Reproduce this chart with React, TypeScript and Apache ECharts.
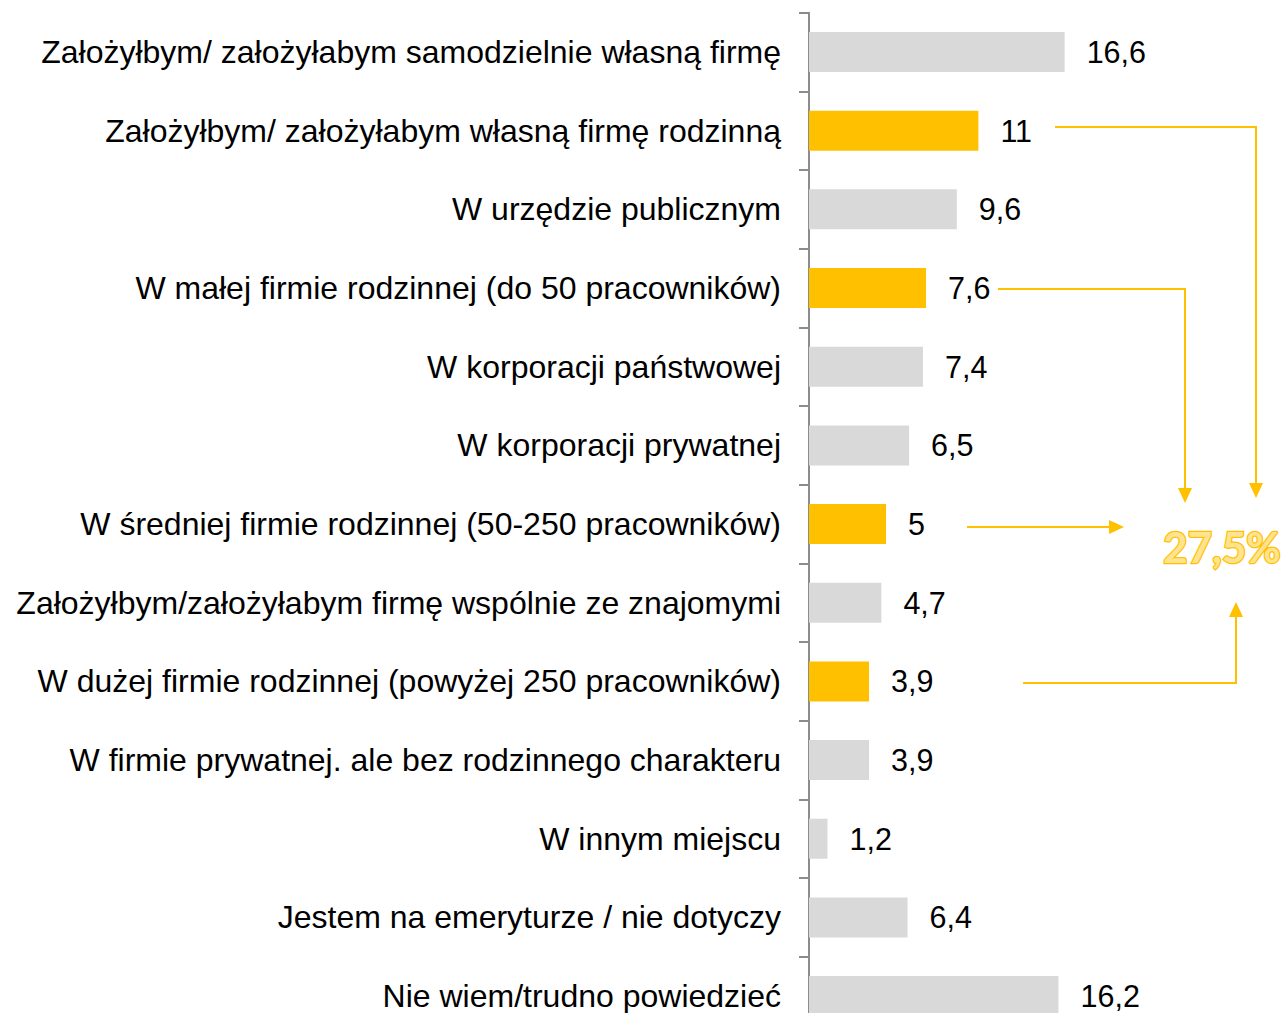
import React, { useEffect, useRef } from "react";
import * as echarts from "echarts";

const categories = [
  "Założyłbym/ założyłabym samodzielnie własną firmę",
  "Założyłbym/ założyłabym własną firmę rodzinną",
  "W urzędzie publicznym",
  "W małej firmie rodzinnej (do 50 pracowników)",
  "W korporacji państwowej",
  "W korporacji prywatnej",
  "W średniej firmie rodzinnej (50-250 pracowników)",
  "Założyłbym/założyłabym firmę wspólnie ze znajomymi",
  "W dużej firmie rodzinnej (powyżej 250 pracowników)",
  "W firmie prywatnej. ale bez rodzinnego charakteru",
  "W innym miejscu",
  "Jestem na emeryturze / nie dotyczy",
  "Nie wiem/trudno powiedzieć",
];
const values = [16.6, 11, 9.6, 7.6, 7.4, 6.5, 5, 4.7, 3.9, 3.9, 1.2, 6.4, 16.2];
const familyFirm = [false, true, false, true, false, false, true, false, true, false, false, false, false];
const totalLabel = "27,5%";

const GOLD = "#FFC000";
const GREY = "#D9D9D9";

function arrow(points: number[][], dir: "down" | "up" | "right") {
  const end = points[points.length - 1];
  const [x, y] = end;
  const h = 15, w = 7;
  let tri: number[][];
  let linePts = points.slice();
  if (dir === "down") {
    tri = [[x - w, y - h], [x + w, y - h], [x, y]];
    linePts[linePts.length - 1] = [x, y - h + 1];
  } else if (dir === "up") {
    tri = [[x - w, y + h], [x + w, y + h], [x, y]];
    linePts[linePts.length - 1] = [x, y + h - 1];
  } else {
    tri = [[x - h, y - w], [x - h, y + w], [x, y]];
    linePts[linePts.length - 1] = [x - h + 1, y];
  }
  return [
    { type: "polyline", shape: { points: linePts }, style: { stroke: GOLD, lineWidth: 2, fill: "none" }, z: 10 },
    { type: "polygon", shape: { points: tri }, style: { fill: GOLD }, z: 10 },
  ];
}

export default function App() {
  const ref = useRef<HTMLDivElement>(null);
  useEffect(() => {
    if (!ref.current) return;
    const chart = echarts.init(ref.current, null, { renderer: "svg" });
    const font = "Liberation Sans";
    chart.setOption({
      animation: false,
      backgroundColor: "#ffffff",
      grid: { left: 809, top: 12.7, width: 462, height: 1022.7, containLabel: false },
      xAxis: {
        type: "value",
        min: 0,
        max: 30,
        show: false,
      },
      yAxis: {
        type: "category",
        inverse: true,
        data: categories,
        axisLine: { show: true, lineStyle: { color: "#8C8C8C", width: 2 } },
        axisTick: { show: true, length: 10, lineStyle: { color: "#8C8C8C", width: 2 } },
        axisLabel: { margin: 28, color: "#000000", fontSize: 32, fontFamily: font },
        splitLine: { show: false },
      },
      series: [
        {
          type: "bar",
          barWidth: 40,
          data: values.map((v, i) => ({
            value: v,
            itemStyle: { color: familyFirm[i] ? GOLD : GREY },
          })),
          label: {
            show: true,
            position: "right",
            distance: 22,
            color: "#000000",
            fontSize: 30.5,
            fontFamily: font,
            formatter: (p: any) => String(p.value).replace(".", ","),
          },
        },
      ],
      graphic: [
        ...arrow([[1055, 127], [1256, 127], [1256, 498]], "down"),
        ...arrow([[998, 289], [1185, 289], [1185, 503]], "down"),
        ...arrow([[967, 527], [1124, 527]], "right"),
        ...arrow([[1023, 683], [1236, 683], [1236, 602]], "up"),
        {
          type: "text",
          x: 1222,
          y: 547,
          z: 11,
          style: {
            text: totalLabel,
            fontFamily: "Lato",
            fontWeight: "bold",
            fontSize: 42,
            fill: "#FFE38F",
            stroke: GOLD,
            lineWidth: 2.5,
            align: "center",
            verticalAlign: "middle",
          },
        },
      ],
    });
    return () => chart.dispose();
  }, []);
  return (
    <div style={{ position: "absolute", left: 0, top: 0, width: 1286, height: 1013, overflow: "hidden" }}>
      <div ref={ref} style={{ width: 1286, height: 1040 }} />
    </div>
  );
}
